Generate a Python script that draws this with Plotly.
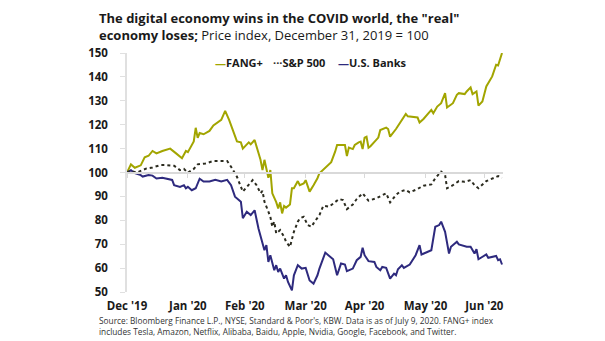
import pandas as pd
import plotly.graph_objects as go

# ---- data (days since Dec 31, 2019; index level, Dec 31, 2019 = 100) ----
fang_days = [0, 2, 4, 7, 9, 11, 13, 15, 18, 22, 25, 28, 30, 31, 34, 35, 36, 37, 39, 42, 44, 46, 48, 50, 52,
             56, 58, 59, 62, 63, 65, 68, 69, 70, 72, 73, 74, 76, 77, 78, 79, 80, 81, 83, 84, 85, 87, 88, 90, 91,
             93, 95, 97, 98, 101, 104, 106, 107, 110, 111, 112, 113, 115, 116, 118, 119, 120, 121, 122, 123,
             124, 126, 128, 129, 132, 133, 134, 137, 139, 142, 143, 148, 149, 151, 155, 156, 158, 160, 162,
             163, 166, 168, 169, 172, 173, 175, 176, 178, 179, 181, 183, 186, 188, 189, 191]
fang_vals = [100, 103.4, 102, 103, 106.4, 107, 109, 108, 109, 110, 108, 106, 109, 108.5, 113, 118.7, 114.5,
             116.5, 116, 117.4, 119.7, 121, 122, 125.8, 122,
             113, 112.6, 110, 112.6, 111.8, 113.6, 105.3, 101, 105.3, 97.8, 101, 91.3, 87.6, 85, 87.5, 82.9, 86,
             85.3, 86.6, 93.4, 93.4, 96.4, 94.7, 95.4, 96.8,
             92, 94.7, 97.6, 99.7, 101.8, 104.3, 108.7, 111.5, 111.5, 111.5, 106.9, 110.4, 109.8, 111.5, 112.6,
             112.9, 109.8, 114.6, 115, 110.4,
             111, 112.9, 114.6, 117.8, 118.8, 118.2, 115, 118.2, 120.6, 124.5, 123.5, 123, 120.9, 122.4, 126.2,
             124.8, 127.6, 129, 133.2,
             127.2, 129, 132.5, 133.2, 132.8, 133.9, 135.6, 132.8, 133.9, 128, 129.7, 136, 140.2, 145.1, 144.8, 150]

spx_days = [0, 2, 5, 7, 10, 13, 17, 20, 24, 27, 29, 31, 34, 36, 40, 44, 51, 53, 56, 59, 61, 63, 64, 66, 68,
            69, 70, 72, 73, 74, 75, 76, 78, 80, 81, 83, 85, 87, 88, 90, 92, 94, 95, 98, 100, 103, 105, 108, 110,
            112, 115, 117, 120, 123, 127, 132, 134, 137, 139, 142, 144, 148, 151, 155, 157, 159, 160, 162, 163,
            166, 169, 172, 175, 177, 179, 183, 186, 189, 191]
spx_vals = [100, 100.6, 100, 100.6, 101.7, 102.1, 103.1, 103.1, 102.8, 101, 101.5, 99.9, 101.5, 103.4, 103.8,
            104.8, 104.8, 102.4, 98.2, 92, 94, 96.1, 96.8, 94.7, 91.3,
            92.3, 87.8, 83.6, 81.5, 77.3, 79.4, 74.5, 75.9, 73.1, 71, 68.9, 75.2, 79.4, 80.8, 81.5, 78, 77.3,
            78.7, 82.2, 86.1, 85.7, 87, 88.9, 88.5,
            84.7, 86.6, 88.9, 91.3, 88.2, 89.2, 91.3, 87.5, 90.6, 92, 92.7, 91.7, 93.1, 94.5, 95, 97.6, 99.7,
            100.4, 99, 93.4,
            94.7, 96.4, 96.1, 96.8, 94.7, 93.4, 96.4, 97.6, 98.5, 97.8]

bank_days = [0, 2, 4, 7, 8, 11, 13, 15, 18, 23, 24, 27, 29, 30, 31, 33, 35, 37, 39, 42, 45, 48, 51, 53, 55,
             58, 59, 61, 63, 65, 67, 69, 70, 71, 72, 73, 75, 76, 77, 78, 80, 81, 82, 84, 85, 87, 89, 91, 93,
             95, 97, 98, 101, 103, 105, 107, 109, 111, 112, 115, 117, 119, 120, 121, 123, 126, 127, 129, 130,
             132, 134, 136, 137, 138, 140, 141, 143, 144, 147, 149, 150, 155, 157, 159, 160, 162, 164, 165,
             168, 169, 173, 175, 177, 178, 179, 183, 184, 188, 189, 190, 191]
bank_vals = [100, 101, 99.7, 98.9, 98.3, 98.9, 98.7, 97.5, 97.8, 96.9, 94.7, 94, 94.7, 93.4, 94, 92.6, 93.4,
             97.4, 96.2, 96.2, 96.9, 96.2, 96.9, 94.7, 89.9,
             87.8, 80.9, 83.6, 82.2, 84.2, 76.5, 70.2, 67.5, 69.6, 62.6, 65.4, 59.1, 61.2, 58.4, 59.8, 55.6, 57,
             54.2, 50.7, 57, 61.2, 59.8, 60.1, 54.8,
             53.5, 57, 59.8, 66.5, 65.1, 63.7, 57, 61.9, 61.5, 58.7, 59.8, 63.3, 64.7, 68.5, 65.4, 62.9, 62.6,
             60.5, 59.1, 60.5,
             60.1, 55.6, 57.7, 57, 59.5, 61.2, 60.1, 60.9, 61.5, 65.4, 69.6, 65.7, 67.5, 77.3, 78, 79.4, 75.2,
             66.1, 68.9,
             71, 69.9, 68.9, 68.9, 66.1, 67.9, 63.7, 65.7, 64.3, 65.1, 63.3, 63.7, 61.5]

tick_dates = ["2019-12-31", "2020-01-31", "2020-02-29", "2020-03-31", "2020-04-30", "2020-05-31", "2020-06-30"]
tick_text = ["Dec '19", "Jan '20", "Feb '20", "Mar '20", "Apr '20", "May '20", "Jun '20"]
y_ticks = [50, 60, 70, 80, 90, 100, 110, 120, 130, 140, 150]

BASE = pd.Timestamp("2019-12-31")


def to_dates(days):
    return BASE + pd.to_timedelta(days, unit="D")


FANG_C = "#a2a500"
SPX_C = "#2b2b1f"
BANK_C = "#2e2a7e"
FONT = "Open Sans"

fig = go.Figure()
fig.add_trace(go.Scatter(x=to_dates(fang_days), y=fang_vals, name="FANG+", mode="lines",
                         line=dict(color=FANG_C, width=2)))
fig.add_trace(go.Scatter(x=to_dates(spx_days), y=spx_vals, name="S&P 500", mode="lines",
                         xaxis="x2", line=dict(color=SPX_C, width=2, dash="dot")))
fig.add_trace(go.Scatter(x=to_dates(bank_days), y=bank_vals, name="U.S. Banks", mode="lines",
                         line=dict(color=BANK_C, width=2)))

x_range = ["2019-12-31", "2020-07-09 12:00"]

fig.update_layout(
    width=605, height=341,
    margin=dict(l=127, r=102, t=53, b=49, pad=0),
    paper_bgcolor="white", plot_bgcolor="white",
    showlegend=False,
    font=dict(family=FONT, color="#222222"),
    xaxis=dict(
        type="date", range=x_range,
        tickvals=tick_dates, ticktext=tick_text,
        showgrid=False, zeroline=False, showline=False,
        ticks="outside", ticklen=3, tickcolor="rgba(0,0,0,0)",
        tickfont=dict(family=FONT, size=11.5, color="#1a1a1a", weight="bold"),
    ),
    xaxis2=dict(
        type="date", range=x_range, matches="x", overlaying="x",
        anchor="free", position=0.5, side="bottom",
        tickvals=tick_dates, showticklabels=False,
        showgrid=False, zeroline=False,
        showline=True, linecolor="#d9d9d9", linewidth=1.5,
        ticks="outside", ticklen=5, tickcolor="#d9d9d9", tickwidth=1,
    ),
    yaxis=dict(
        range=[50, 150], tickvals=y_ticks,
        showgrid=False, zeroline=False,
        showline=True, linecolor="#e0e0e0", linewidth=1.5,
        ticks="outside", ticklen=5, tickcolor="#e0e0e0",
        ticklabelstandoff=10,
        tickfont=dict(family=FONT, size=11.5, color="#1a1a1a", weight="bold"),
    ),
)

# title (two lines)
fig.add_annotation(
    xref="paper", yref="paper", x=(97 - 127) / 376, y=(292 - 7) / 239,
    xanchor="left", yanchor="top", showarrow=False, align="left",
    text="<b>The digital economy wins in the COVID world, the \"real\"</b><br>"
         "<b>economy loses;</b> Price index, December 31, 2019 = 100",
    font=dict(family=FONT, size=13, color="#1a1a1a"),
)

# legend drawn as text entries
legend_items = [("—", FANG_C, "FANG+", 213), ("···", SPX_C, "S&P 500", 271), ("—", BANK_C, "U.S. Banks", 336)]
for glyph, col, label, px in legend_items:
    fig.add_annotation(
        xref="paper", yref="paper", x=(px - 127) / 376, y=(292 - 62) / 239,
        xanchor="left", yanchor="middle", showarrow=False,
        text=f"<span style='color:{col}'>{glyph}</span>{label}",
        font=dict(family=FONT, size=11, color="#1a1a1a", weight="bold"),
    )

fig.add_annotation(
    xref="paper", yref="paper", x=(97 - 127) / 376, y=(292 - 313) / 239,
    xanchor="left", yanchor="top", showarrow=False, align="left",
    text="Source: Bloomberg Finance L.P., NYSE, Standard &amp; Poor's, KBW. Data is as of July 9, 2020. FANG+ index<br>"
         "includes Tesla, Amazon, Netflix, Alibaba, Baidu, Apple, Nvidia, Google, Facebook, and Twitter.",
    font=dict(family=FONT, size=8.3, color="#333333"),
)

fig.write_html("out.html")
